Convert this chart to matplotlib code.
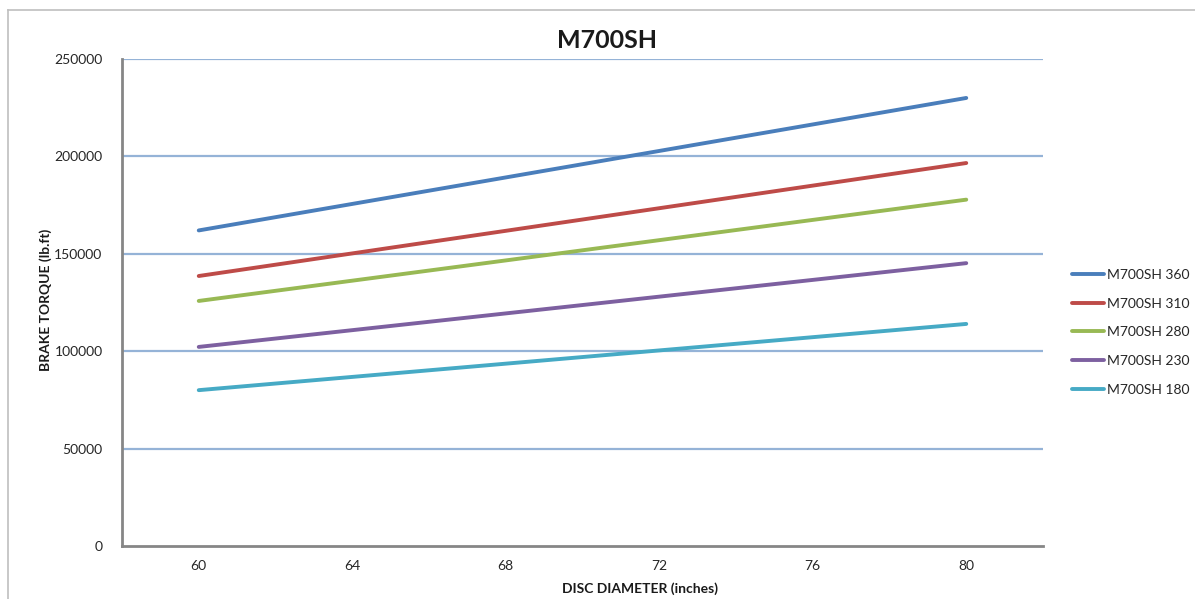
import matplotlib
matplotlib.use("Agg")
import matplotlib.pyplot as plt
from matplotlib.lines import Line2D

plt.rcParams['font.family'] = ['Lato', 'DejaVu Sans']

# data
diameters = [60, 64, 68, 72, 76, 80]
series_names = ['M700SH 360', 'M700SH 310', 'M700SH 280', 'M700SH 230', 'M700SH 180']
torque_360 = [162000, 175600, 189200, 202800, 216400, 230000]
torque_310 = [138600, 150200, 161800, 173400, 185000, 196600]
torque_280 = [125800, 136200, 146600, 157000, 167400, 177800]
torque_230 = [102200, 110800, 119400, 128000, 136600, 145200]
torque_180 = [80000, 86800, 93600, 100400, 107200, 114000]
y_ticks = [0, 50000, 100000, 150000, 200000, 250000]

colors = ['#4A7EBB', '#BE4B48', '#98B954', '#7D60A0', '#46AAC5']
W, H = 1195, 599

fig = plt.figure(figsize=(W / 100, H / 100), dpi=100)
ax = fig.add_axes([122 / W, 1 - 546 / H, (1043 - 122) / W, (546 - 59) / H])

for name, vals, c in zip(series_names,
                         [torque_360, torque_310, torque_280, torque_230, torque_180],
                         colors):
    ax.plot(diameters, vals, color=c, lw=2.8, label=name, solid_capstyle='round', zorder=3)

ax.set_xlim(58, 82)
ax.set_ylim(0, 250000)
ax.set_xticks(diameters)
ax.set_xticklabels([str(d) for d in diameters])
ax.set_yticks(y_ticks)
ax.set_yticklabels([str(v) for v in y_ticks])
ax.tick_params(axis='both', length=0, labelsize=10, colors='#262626')
ax.tick_params(axis='y', pad=14)
ax.tick_params(axis='x', pad=10)

for v in y_ticks[1:]:
    ax.axhline(v, color='#95B3D7', lw=1.6, zorder=1)

for s in ['top', 'right']:
    ax.spines[s].set_visible(False)
for s in ['left', 'bottom']:
    ax.spines[s].set_color('#868686')
    ax.spines[s].set_linewidth(2)

fig.text(607 / W, 1 - 40 / H, 'M700SH', ha='center', va='center',
         fontsize=18, fontweight='bold', color='#1a1a1a')
fig.text(46 / W, 1 - 300 / H, 'BRAKE TORQUE (lb.ft)', ha='center', va='center',
         rotation=90, fontsize=10, fontweight='bold', color='#1a1a1a')
fig.text(640 / W, 1 - 589 / H, 'DISC DIAMETER (inches)', ha='center', va='center',
         fontsize=10, fontweight='bold', color='#1a1a1a')

leg = ax.legend(loc='upper left', bbox_to_anchor=(1072 / W, 1 - 269 / H),
                bbox_transform=fig.transFigure, frameon=False, fontsize=10,
                handlelength=2.3, handletextpad=0.2, labelspacing=1.2,
                borderaxespad=0, borderpad=0)
for t in leg.get_texts():
    t.set_color('#262626')

# outer chart border
fig.add_artist(Line2D([8 / W, 8 / W], [0, 1 - 10 / H], transform=fig.transFigure,
                      color='#BFBFBF', lw=1.2))
fig.add_artist(Line2D([8 / W, 1], [1 - 10 / H, 1 - 10 / H], transform=fig.transFigure,
                      color='#BFBFBF', lw=1.2))

fig.savefig('out.png', dpi=100)
